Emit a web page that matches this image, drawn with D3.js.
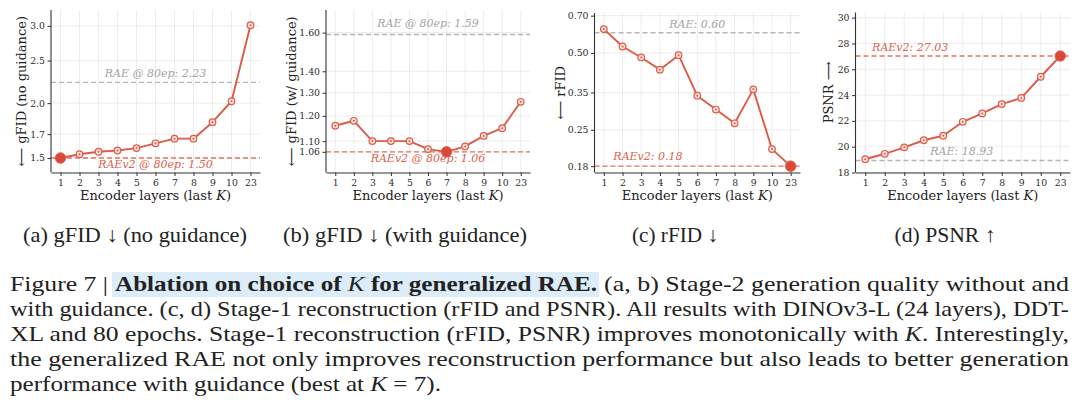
<!DOCTYPE html>
<html>
<head>
<meta charset="utf-8">
<script src="https://cdn.jsdelivr.net/npm/d3@7"></script>
<style>
  body { margin: 0; background: #fff; }
  #wrap { position: relative; width: 1080px; height: 412px; overflow: hidden; background: #fff; }
</style>
</head>
<body>
<div id="wrap"></div>
<script>
// data
const layers = ['1', '2', '3', '4', '5', '6', '7', '8', '9', '10', '23'];
const gfidNoGuidance = [1.50, 1.53, 1.55, 1.56, 1.58, 1.62, 1.66, 1.66, 1.81, 2.02, 3.01];
const gfidGuidance = [1.16, 1.18, 1.10, 1.10, 1.10, 1.07, 1.06, 1.08, 1.12, 1.15, 1.26];
const rfid = [0.62, 0.53, 0.48, 0.43, 0.49, 0.34, 0.30, 0.265, 0.36, 0.21, 0.18];
const psnr = [19.03, 19.45, 19.95, 20.50, 20.85, 21.93, 22.58, 23.30, 23.78, 25.42, 27.03];

const ticksA = [1.5, 1.7, 2.0, 2.5, 3.0];
const ticksB = [1.06, 1.10, 1.20, 1.30, 1.40, 1.60];
const ticksC = [0.18, 0.25, 0.35, 0.50, 0.70];
const ticksD = [18, 20, 22, 24, 26, 28, 30];

// reference lines: [RAE, RAEv2]
const refA = [2.23, 1.50];
const refB = [1.59, 1.06];
const refC = [0.60, 0.18];
const refD = [18.93, 27.03];
const refLabelsA = ['RAE @ 80ep: 2.23', 'RAEv2 @ 80ep: 1.50'];
const refLabelsB = ['RAE @ 80ep: 1.59', 'RAEv2 @ 80ep: 1.06'];
const refLabelsC = ['RAE: 0.60', 'RAEv2: 0.18'];
const refLabelsD = ['RAE: 18.93', 'RAEv2: 27.03'];

const yLabels = ['\u27F5 gFID (no guidance)', '\u27F5 gFID (w/ guidance)', '\u27F5 rFID', 'PSNR \u27F6'];
const subCaptions = ['(a) gFID \u2193 (no guidance)', '(b) gFID \u2193 (with guidance)', '(c) rFID \u2193', '(d) PSNR \u2191'];
const subCaptionWidths = [224, 244, 86, 101];

const RED = '#dd5b48';
const GREY_LINE = '#b5b5b5';
const GREY_TEXT = '#a3a3a3';
const RED_LINE = '#e3735f';
const RED_TEXT = '#d9624f';

const panels = [
  { values: gfidNoGuidance, best: 0, ticks: ticksA, fmt: d3.format('.1f'), log: true, domain: [1.39, 3.26],
    left: 51, right: 260, top: 10, labX: 21.5, refs: refA, refLabels: refLabelsA,
    lab: [{ fx: 0.5, dy: -9 }, { fx: 0.5, dy: 7 }] },
  { values: gfidGuidance, best: 6, ticks: ticksB, fmt: d3.format('.2f'), log: true, domain: [0.987, 1.73],
    left: 326, right: 530, top: 10, labX: 291.5, refs: refB, refLabels: refLabelsB,
    lab: [{ fx: 0.5, dy: -11 }, { fx: 0.5, dy: 7 }] },
  { values: rfid, best: 10, ticks: ticksC, fmt: d3.format('.2f'), log: true, domain: [0.170, 0.717],
    left: 594.5, right: 800, top: 13, labX: 560.5, refs: refC, refLabels: refLabelsC,
    lab: [{ fx: 0.5, dy: -8.5 }, { fx: 0.26, dy: -10 }] },
  { values: psnr, best: 10, ticks: ticksD, fmt: d3.format('d'), log: false, domain: [18, 30.4],
    left: 855.5, right: 1070, top: 12.5, labX: 828.5, refs: refD, refLabels: refLabelsD,
    lab: [{ fx: 0.495, dy: -8.7 }, { fx: 0.255, dy: -8.7 }] }
];
const BOTTOM = 172.5;

const svg = d3.select('#wrap').append('svg')
  .attr('width', 1080).attr('height', 412)
  .attr('font-family', "'DejaVu Serif', serif");

panels.forEach((p, pi) => {
  const g = svg.append('g');
  const x = d3.scalePoint().domain(layers).range([p.left, p.right]).padding(0.5);
  const y = (p.log ? d3.scaleLog() : d3.scaleLinear()).domain(p.domain).range([BOTTOM, p.top]);

  // grid
  g.append('g').selectAll('line').data(p.ticks).join('line')
    .attr('x1', p.left).attr('x2', p.right)
    .attr('y1', d => y(d)).attr('y2', d => y(d))
    .attr('stroke', '#e9e9e9').attr('stroke-width', 0.8);
  g.append('g').selectAll('line').data(layers).join('line')
    .attr('x1', d => x(d)).attr('x2', d => x(d))
    .attr('y1', p.top).attr('y2', BOTTOM)
    .attr('stroke', '#e9e9e9').attr('stroke-width', 0.8);

  // reference lines
  const refColors = [GREY_LINE, RED_LINE];
  const refText = [GREY_TEXT, RED_TEXT];
  p.refs.forEach((v, i) => {
    g.append('line')
      .attr('x1', p.left).attr('x2', p.right)
      .attr('y1', y(v)).attr('y2', y(v))
      .attr('stroke', refColors[i]).attr('stroke-width', 1.4)
      .attr('stroke-dasharray', '5,3');
    g.append('text')
      .attr('x', p.left + (p.right - p.left) * p.lab[i].fx)
      .attr('y', y(v) + p.lab[i].dy)
      .attr('text-anchor', 'middle')
      .attr('dominant-baseline', 'central')
      .attr('font-style', 'italic')
      .attr('font-size', '11px')
      .attr('fill', refText[i])
      .text(p.refLabels[i]);
  });

  // axes
  const xAxis = g.append('g').attr('transform', `translate(0,${BOTTOM})`)
    .call(d3.axisBottom(x).tickSize(3.5).tickSizeOuter(0).tickPadding(3));
  const yAxis = g.append('g').attr('transform', `translate(${p.left},0)`)
    .call(d3.axisLeft(y).tickValues(p.ticks).tickFormat(p.fmt).tickSize(3.5).tickSizeOuter(0).tickPadding(2.5));
  [xAxis, yAxis].forEach(a => {
    a.attr('font-family', null).attr('font-size', null);
    a.select('.domain').attr('stroke', '#333').attr('stroke-width', 1.1);
    a.selectAll('.tick line').attr('stroke', '#333').attr('stroke-width', 1);
    a.selectAll('.tick text').attr('fill', '#2a2a2a').attr('font-size', '9.3px');
  });
  yAxis.select('.domain').attr('d', `M0,${BOTTOM}V${p.top}`);

  // series line
  g.append('path')
    .datum(p.values)
    .attr('fill', 'none')
    .attr('stroke', RED)
    .attr('stroke-width', 1.9)
    .attr('stroke-linejoin', 'round')
    .attr('d', d3.line().x((d, i) => x(layers[i])).y(d => y(d)));

  // markers
  const pts = p.values.map((v, i) => ({ v, k: layers[i], best: i === p.best }));
  g.append('g').selectAll('circle').data(pts.filter(d => !d.best)).join('circle')
    .attr('cx', d => x(d.k)).attr('cy', d => y(d.v)).attr('r', 3.3)
    .attr('fill', '#fbe0db').attr('stroke', RED).attr('stroke-width', 1.2);
  g.append('g').selectAll('circle').data(pts.filter(d => !d.best)).join('circle')
    .attr('cx', d => x(d.k)).attr('cy', d => y(d.v)).attr('r', 1)
    .attr('fill', RED);
  g.append('g').selectAll('circle').data(pts.filter(d => d.best)).join('circle')
    .attr('cx', d => x(d.k)).attr('cy', d => y(d.v)).attr('r', 5.3)
    .attr('fill', '#d9483a').attr('stroke', '#e2604f').attr('stroke-width', 0.8);

  // axis labels
  const xl = g.append('text')
    .attr('x', (p.left + p.right) / 2).attr('y', 195)
    .attr('text-anchor', 'middle').attr('dominant-baseline', 'central')
    .attr('font-size', '13px').attr('fill', '#222');
  xl.append('tspan').text('Encoder layers (last ');
  xl.append('tspan').attr('font-style', 'italic').text('K');
  xl.append('tspan').text(')');

  g.append('text')
    .attr('transform', `translate(${p.labX},${(p.top + BOTTOM) / 2}) rotate(-90)`)
    .attr('text-anchor', 'middle').attr('dominant-baseline', 'central')
    .attr('font-size', '13px').attr('fill', '#222')
    .text(yLabels[pi]);

  // sub caption
  svg.append('text')
    .attr('x', 135 + 270 * pi).attr('y', 242)
    .attr('text-anchor', 'middle')
    .attr('font-family', "'Liberation Serif', serif")
    .attr('font-size', '21px').attr('fill', '#222')
    .attr('textLength', subCaptionWidths[pi])
    .attr('lengthAdjust', 'spacingAndGlyphs')
    .text(subCaptions[pi]);
});

// figure caption, one text element per line, stretched to the column width
const cap = svg.append('g')
  .attr('font-family', "'Liberation Serif', serif")
  .attr('font-size', '21px').attr('fill', '#222');

cap.append('rect')
  .attr('x', 112).attr('y', 272).attr('width', 487).attr('height', 25)
  .attr('fill', '#dcecf9');

function capText(xPos, yPos, width, parts) {
  const t = cap.append('text')
    .attr('x', xPos).attr('y', yPos)
    .attr('textLength', width)
    .attr('lengthAdjust', 'spacingAndGlyphs');
  parts.forEach(([s, style]) => {
    const sp = t.append('tspan').text(s);
    if (style === 'b') sp.attr('font-weight', 'bold');
    if (style === 'i') sp.attr('font-style', 'italic');
  });
}

capText(10, 291, 98, [['Figure 7 |']]);
capText(115, 291, 482, [['Ablation on choice of ', 'b'], ['K', 'i'], [' for generalized RAE.', 'b']]);
capText(604, 291, 465, [['(a, b) Stage-2 generation quality without and']]);
capText(10, 316, 1059, [['with guidance. (c, d) Stage-1 reconstruction (rFID and PSNR). All results with DINOv3-L (24 layers), DDT-']]);
capText(10, 341, 1059, [['XL and 80 epochs. Stage-1 reconstruction (rFID, PSNR) improves monotonically with '], ['K', 'i'], ['. Interestingly,']]);
capText(10, 366, 1059, [['the generalized RAE not only improves reconstruction performance but also leads to better generation']]);
capText(10, 391, 431, [['performance with guidance (best at '], ['K', 'i'], [' = 7).']]);
</script>
</body>
</html>
